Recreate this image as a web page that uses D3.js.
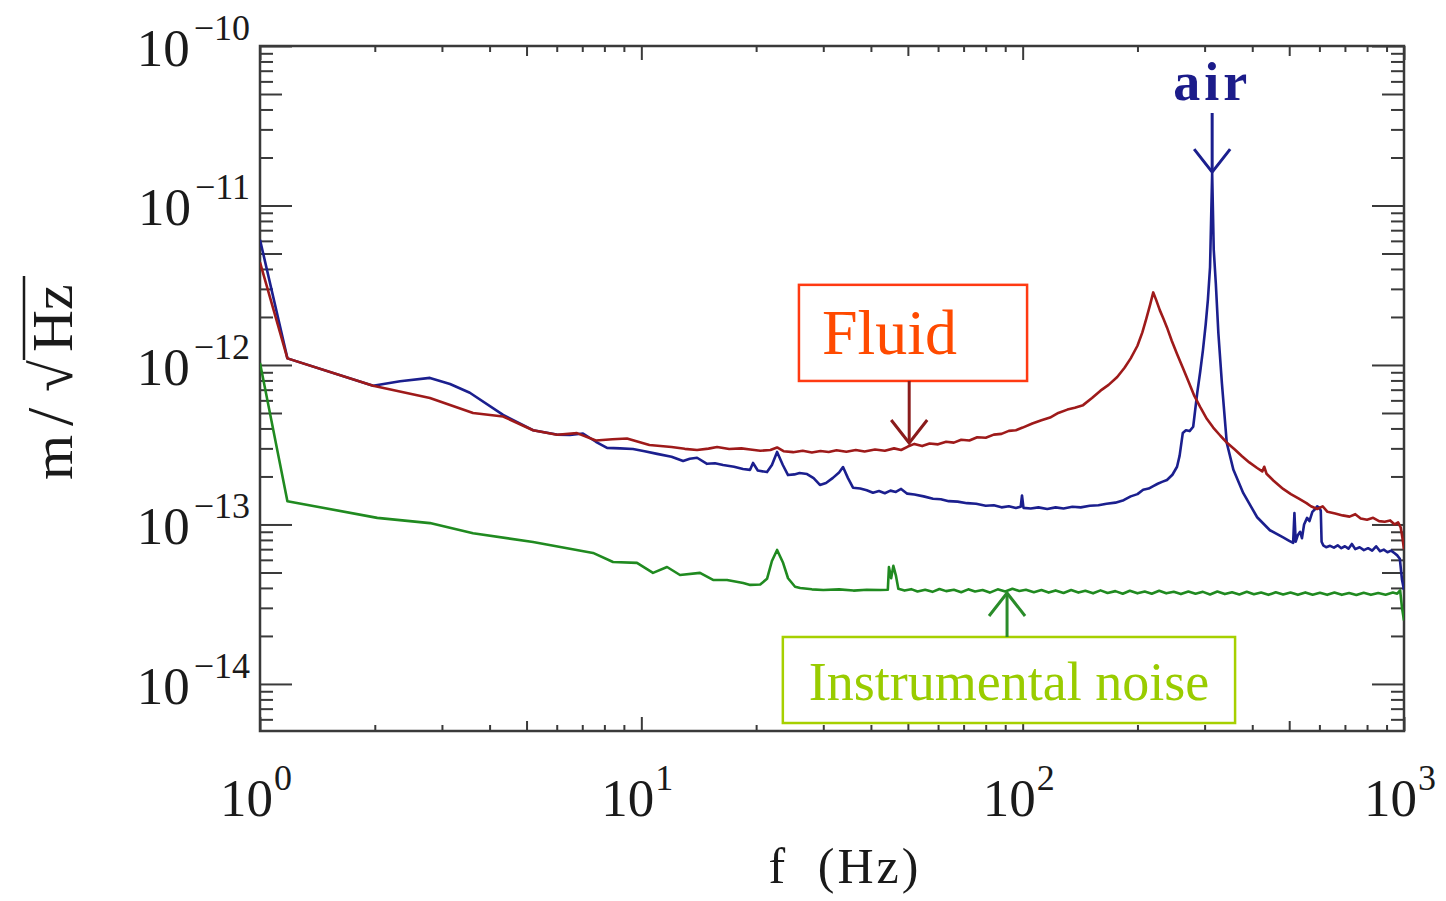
<!DOCTYPE html>
<html>
<head>
<meta charset="utf-8">
<script src="https://cdn.jsdelivr.net/npm/d3@7"></script>
<style>
	html, body { margin: 0; padding: 0; background: #fff; }
	svg { display: block; }
	text { font-family: 'Liberation Serif', 'Times New Roman', serif; }
</style>
</head>
<body>
<svg id="chart"></svg>
<script>
/* global d3 */

// Spectra: [ frequency (Hz), amplitude (m/sqrt(Hz)) ]
const fluidSpectrum = [
	[ 1.00, 4.4e-12 ], [ 1.18, 1.10e-12 ], [ 1.98, 7.4e-13 ], [ 2.79, 6.2e-13 ], [ 3.62, 5.0e-13 ],
	[ 4.34, 4.75e-13 ], [ 5.20, 3.9e-13 ], [ 6.01, 3.65e-13 ], [ 6.78, 3.74e-13 ], [ 7.6, 3.36e-13 ],
	[ 8.4, 3.42e-13 ], [ 9.17, 3.46e-13 ], [ 10.5, 3.15e-13 ], [ 12.0, 3.06e-13 ], [ 13.0, 2.98e-13 ],
	[ 14.0, 2.93e-13 ], [ 15.0, 2.99e-13 ], [ 15.8, 3.06e-13 ], [ 17.0, 2.97e-13 ], [ 18.3, 3.0e-13 ],
	[ 19.3, 2.95e-13 ], [ 20.5, 2.9e-13 ], [ 21.8, 2.93e-13 ], [ 22.7, 3.04e-13 ], [ 23.6, 2.88e-13 ],
	[ 25.0, 2.84e-13 ], [ 26.5, 2.9e-13 ], [ 28.0, 2.83e-13 ], [ 29.5, 2.89e-13 ], [ 31.0, 2.85e-13 ],
	[ 32.5, 2.92e-13 ], [ 34.5, 2.86e-13 ], [ 36.5, 2.93e-13 ], [ 38.5, 2.87e-13 ], [ 41.0, 2.95e-13 ],
	[ 43.5, 2.9e-13 ], [ 46.0, 3.0e-13 ], [ 48.0, 2.93e-13 ], [ 50.0, 3.08e-13 ], [ 52.0, 3.2e-13 ],
	[ 54.5, 3.1e-13 ], [ 57.0, 3.22e-13 ], [ 60.0, 3.18e-13 ], [ 63.0, 3.3e-13 ], [ 66.0, 3.26e-13 ],
	[ 69.0, 3.4e-13 ], [ 72.5, 3.36e-13 ], [ 76.0, 3.52e-13 ], [ 80.0, 3.5e-13 ], [ 84.0, 3.66e-13 ],
	[ 88.0, 3.7e-13 ], [ 92.0, 3.86e-13 ], [ 96.0, 3.9e-13 ], [ 100, 4.05e-13 ], [ 106, 4.3e-13 ],
	[ 112, 4.5e-13 ], [ 118, 4.68e-13 ], [ 124, 5.0e-13 ], [ 131, 5.25e-13 ], [ 137, 5.4e-13 ],
	[ 144, 5.6e-13 ], [ 152, 6.2e-13 ], [ 160, 6.9e-13 ], [ 168, 7.5e-13 ], [ 177, 8.4e-13 ],
	[ 185, 9.6e-13 ], [ 192, 1.1e-12 ], [ 200, 1.32e-12 ], [ 206, 1.6e-12 ], [ 211, 1.95e-12 ],
	[ 216, 2.4e-12 ], [ 220, 2.85e-12 ], [ 224, 2.55e-12 ], [ 229, 2.2e-12 ], [ 234, 1.95e-12 ],
	[ 239, 1.72e-12 ], [ 246, 1.42e-12 ], [ 254, 1.17e-12 ], [ 263, 9.6e-13 ], [ 272, 7.9e-13 ],
	[ 282, 6.4e-13 ], [ 292, 5.46e-13 ], [ 304, 4.6e-13 ], [ 316, 4.05e-13 ], [ 330, 3.6e-13 ],
	[ 344, 3.24e-13 ], [ 360, 2.95e-13 ], [ 376, 2.68e-13 ], [ 393, 2.45e-13 ], [ 412, 2.26e-13 ],
	[ 425, 2.15e-13 ], [ 430, 2.3e-13 ], [ 436, 2.08e-13 ], [ 455, 1.88e-13 ], [ 482, 1.67e-13 ],
	[ 505, 1.55e-13 ], [ 530, 1.45e-13 ], [ 555, 1.36e-13 ], [ 570, 1.3e-13 ], [ 592, 1.25e-13 ],
	[ 612, 1.3e-13 ], [ 630, 1.2e-13 ], [ 660, 1.17e-13 ], [ 690, 1.14e-13 ], [ 720, 1.12e-13 ],
	[ 745, 1.16e-13 ], [ 770, 1.09e-13 ], [ 800, 1.07e-13 ], [ 830, 1.1e-13 ], [ 860, 1.05e-13 ],
	[ 890, 1.04e-13 ], [ 920, 1.06e-13 ], [ 945, 1.0e-13 ], [ 965, 1.03e-13 ], [ 980, 9.6e-14 ],
	[ 990, 8.3e-14 ], [ 1000, 7.0e-14 ],
];

const airSpectrum = [
	[ 1.00, 6.1e-12 ], [ 1.18, 1.10e-12 ], [ 1.98, 7.4e-13 ], [ 2.33, 7.9e-13 ], [ 2.79, 8.3e-13 ],
	[ 3.15, 7.6e-13 ], [ 3.55, 6.7e-13 ], [ 4.34, 4.86e-13 ], [ 5.20, 3.9e-13 ], [ 6.0, 3.66e-13 ],
	[ 6.5, 3.64e-13 ], [ 7.03, 3.72e-13 ], [ 7.6, 3.3e-13 ], [ 8.13, 3.02e-13 ], [ 8.8, 3.0e-13 ],
	[ 9.51, 2.97e-13 ], [ 10.2, 2.88e-13 ], [ 11.0, 2.77e-13 ], [ 12.0, 2.66e-13 ], [ 12.87, 2.5e-13 ],
	[ 13.4, 2.58e-13 ], [ 14.0, 2.62e-13 ], [ 14.87, 2.4e-13 ], [ 15.6, 2.42e-13 ], [ 16.38, 2.36e-13 ],
	[ 17.5, 2.3e-13 ], [ 18.48, 2.23e-13 ], [ 19.28, 2.2e-13 ], [ 19.63, 2.43e-13 ], [ 20.2, 2.18e-13 ],
	[ 21.36, 2.13e-13 ], [ 22.0, 2.36e-13 ], [ 22.7, 2.85e-13 ], [ 23.5, 2.36e-13 ], [ 24.25, 2.04e-13 ],
	[ 25.2, 2.06e-13 ], [ 26.0, 2.1e-13 ], [ 27.2, 2.07e-13 ], [ 28.3, 1.95e-13 ], [ 29.4, 1.77e-13 ],
	[ 30.5, 1.82e-13 ], [ 31.8, 1.96e-13 ], [ 33.0, 2.12e-13 ], [ 33.8, 2.29e-13 ], [ 34.8, 1.96e-13 ],
	[ 35.9, 1.7e-13 ], [ 37.5, 1.68e-13 ], [ 39.0, 1.64e-13 ], [ 40.5, 1.58e-13 ], [ 42.0, 1.62e-13 ],
	[ 43.5, 1.57e-13 ], [ 45.0, 1.63e-13 ], [ 46.5, 1.6e-13 ], [ 48.0, 1.67e-13 ], [ 49.8, 1.56e-13 ],
	[ 52.0, 1.54e-13 ], [ 55.0, 1.5e-13 ], [ 58.2, 1.45e-13 ], [ 61.0, 1.44e-13 ], [ 64.0, 1.4e-13 ],
	[ 67.5, 1.39e-13 ], [ 71.5, 1.36e-13 ], [ 75.5, 1.35e-13 ], [ 80.0, 1.31e-13 ], [ 84.0, 1.32e-13 ],
	[ 88.0, 1.28e-13 ], [ 92.0, 1.3e-13 ], [ 96.0, 1.27e-13 ], [ 98.8, 1.29e-13 ], [ 99.6, 1.52e-13 ],
	[ 100.5, 1.27e-13 ], [ 105, 1.26e-13 ], [ 110, 1.28e-13 ], [ 116, 1.25e-13 ], [ 122, 1.28e-13 ],
	[ 128, 1.26e-13 ], [ 135, 1.29e-13 ], [ 142, 1.28e-13 ], [ 150, 1.31e-13 ], [ 158, 1.32e-13 ],
	[ 166, 1.35e-13 ], [ 175, 1.37e-13 ], [ 184, 1.42e-13 ], [ 192, 1.5e-13 ], [ 200, 1.55e-13 ],
	[ 207, 1.65e-13 ], [ 214, 1.68e-13 ], [ 220, 1.74e-13 ], [ 226, 1.8e-13 ], [ 232, 1.85e-13 ],
	[ 239, 1.9e-13 ], [ 247, 2.05e-13 ], [ 254, 2.3e-13 ], [ 258, 2.7e-13 ], [ 263, 3.75e-13 ],
	[ 268, 3.9e-13 ], [ 274, 3.85e-13 ], [ 280, 4.1e-13 ], [ 287, 6.7e-13 ], [ 292, 9.0e-13 ],
	[ 297, 1.24e-12 ], [ 302, 1.8e-12 ], [ 306, 2.56e-12 ], [ 310, 4.1e-12 ], [ 314, 1.6e-11 ],
	[ 317, 5.3e-12 ], [ 321, 3.25e-12 ], [ 326, 1.58e-12 ], [ 333, 7.7e-13 ], [ 343, 3.24e-13 ],
	[ 357, 2.2e-13 ], [ 379, 1.57e-13 ], [ 412, 1.11e-13 ], [ 445, 9.2e-14 ], [ 482, 8.3e-14 ],
	[ 500, 7.9e-14 ], [ 512, 7.66e-14 ], [ 516, 1.18e-13 ], [ 520, 7.8e-14 ], [ 527, 8.6e-14 ],
	[ 534, 9.0e-14 ], [ 540, 8.2e-14 ], [ 547, 1.0e-13 ], [ 557, 1.1e-13 ], [ 565, 1.05e-13 ],
	[ 575, 1.2e-13 ], [ 585, 1.25e-13 ], [ 592, 1.3e-13 ], [ 600, 1.27e-13 ], [ 605, 1.22e-13 ],
	[ 608, 7.8e-14 ], [ 614, 7.4e-14 ], [ 625, 7.2e-14 ], [ 640, 7.35e-14 ], [ 655, 7.15e-14 ],
	[ 670, 7.4e-14 ], [ 685, 7.1e-14 ], [ 700, 7.3e-14 ], [ 715, 7.05e-14 ], [ 730, 7.55e-14 ],
	[ 745, 7.0e-14 ], [ 765, 7.2e-14 ], [ 785, 6.9e-14 ], [ 805, 7.1e-14 ], [ 825, 6.85e-14 ],
	[ 845, 7.3e-14 ], [ 865, 6.8e-14 ], [ 885, 6.95e-14 ], [ 905, 6.7e-14 ], [ 925, 6.85e-14 ],
	[ 945, 6.6e-14 ], [ 960, 6.4e-14 ], [ 975, 6.1e-14 ], [ 988, 4.5e-14 ], [ 1000, 3.9e-14 ],
];

const noiseSpectrum = [
	[ 1.00, 1.03e-12 ], [ 1.18, 1.40e-13 ], [ 2.03, 1.10e-13 ], [ 2.79, 1.02e-13 ], [ 3.62, 8.8e-14 ],
	[ 5.20, 7.77e-14 ], [ 7.47, 6.63e-14 ], [ 8.43, 5.82e-14 ], [ 9.74, 5.74e-14 ], [ 10.73, 4.97e-14 ],
	[ 11.68, 5.41e-14 ], [ 12.63, 4.82e-14 ], [ 14.25, 4.97e-14 ], [ 15.42, 4.49e-14 ], [ 16.78, 4.49e-14 ],
	[ 18.5, 4.3e-14 ], [ 19.3, 4.18e-14 ], [ 20.5, 4.2e-14 ], [ 21.36, 4.56e-14 ], [ 22.0, 5.9e-14 ],
	[ 22.7, 6.92e-14 ], [ 23.5, 5.8e-14 ], [ 24.25, 4.6e-14 ], [ 25.3, 4.07e-14 ], [ 26.1, 4.0e-14 ],
	[ 28, 3.92e-14 ], [ 30, 3.88e-14 ], [ 33, 3.92e-14 ], [ 36, 3.85e-14 ], [ 39, 3.9e-14 ],
	[ 42.3, 3.88e-14 ], [ 44.3, 3.9e-14 ], [ 44.6, 5.4e-14 ], [ 45.2, 4.6e-14 ], [ 45.8, 5.5e-14 ],
	[ 46.5, 4.8e-14 ], [ 47.2, 3.95e-14 ], [ 49, 3.85e-14 ], [ 51, 3.93e-14 ], [ 53, 3.8e-14 ],
	[ 55.5, 3.9e-14 ], [ 58, 3.78e-14 ], [ 60.5, 3.94e-14 ], [ 63, 3.82e-14 ], [ 66, 3.9e-14 ],
	[ 69, 3.76e-14 ], [ 72, 3.92e-14 ], [ 75, 3.8e-14 ], [ 78.5, 3.88e-14 ], [ 82, 3.74e-14 ],
	[ 86, 3.92e-14 ], [ 90, 3.8e-14 ], [ 94, 3.95e-14 ], [ 98, 3.83e-14 ], [ 102, 3.9e-14 ],
	[ 107, 3.76e-14 ], [ 112, 3.88e-14 ], [ 117, 3.74e-14 ], [ 122, 3.86e-14 ], [ 128, 3.72e-14 ],
	[ 134, 3.88e-14 ], [ 140, 3.74e-14 ], [ 146, 3.84e-14 ], [ 153, 3.7e-14 ], [ 160, 3.86e-14 ],
	[ 167, 3.72e-14 ], [ 175, 3.82e-14 ], [ 183, 3.68e-14 ], [ 191, 3.84e-14 ], [ 200, 3.7e-14 ],
	[ 209, 3.8e-14 ], [ 218, 3.68e-14 ], [ 228, 3.84e-14 ], [ 238, 3.7e-14 ], [ 249, 3.78e-14 ],
	[ 260, 3.66e-14 ], [ 272, 3.8e-14 ], [ 284, 3.68e-14 ], [ 297, 3.78e-14 ], [ 310, 3.64e-14 ],
	[ 324, 3.8e-14 ], [ 339, 3.66e-14 ], [ 354, 3.76e-14 ], [ 370, 3.64e-14 ], [ 387, 3.78e-14 ],
	[ 404, 3.65e-14 ], [ 422, 3.74e-14 ], [ 441, 3.62e-14 ], [ 461, 3.76e-14 ], [ 482, 3.64e-14 ],
	[ 504, 3.74e-14 ], [ 527, 3.62e-14 ], [ 551, 3.75e-14 ], [ 576, 3.63e-14 ], [ 602, 3.73e-14 ],
	[ 629, 3.62e-14 ], [ 657, 3.74e-14 ], [ 687, 3.62e-14 ], [ 718, 3.72e-14 ], [ 750, 3.61e-14 ],
	[ 784, 3.73e-14 ], [ 819, 3.62e-14 ], [ 856, 3.72e-14 ], [ 895, 3.63e-14 ], [ 935, 3.74e-14 ],
	[ 960, 3.68e-14 ], [ 977, 3.86e-14 ], [ 988, 3.0e-14 ], [ 1000, 2.5e-14 ],
];

// Axis ticks
const xMajorTicks = [ 1, 10, 100, 1000 ];
const yMajorTicks = [ 1e-14, 1e-13, 1e-12, 1e-11, 1e-10 ];
const minorMultipliers = [ 2, 3, 4, 6, 7, 8, 9 ];

// Annotations: [ frequency, amplitude ] anchors
const fluidBox = { f: [ 25.9, 102.7 ], v: [ 7.94e-13, 3.18e-12 ], label: 'Fluid' };
const fluidArrow = { f: 50.4, from: 7.94e-13, to: 3.24e-13 };
const noiseBox = { f: [ 23.5, 360.6 ], v: [ 5.69e-15, 1.97e-14 ], label: 'Instrumental noise' };
const noiseArrow = { f: 91.0, from: 1.97e-14, to: 3.72e-14 };
const airArrow = { f: 314, from: 3.8e-11, to: 1.62e-11, label: 'air' };

const COLORS = {
	fluid: '#9e1a1a',
	air: '#1b1f8e',
	noise: '#208a20',
	axis: '#3a3a3a',
	fluidBox: '#ff3a12',
	fluidText: '#ff4a00',
	fluidArrow: '#8a1c1c',
	noiseBox: '#a6d000',
	noiseText: '#99cc00',
	noiseArrow: '#2a8c2a',
	airText: '#1c1c8a',
};

const width = 1446;
const height = 901;

const x = d3.scaleLog().domain( [ 1, 1000 ] ).range( [ 260, 1404 ] );
const y = d3.scaleLog().domain( [ 5.07e-15, 1e-10 ] ).range( [ 731, 46 ] );

const svg = d3.select( '#chart' )
	.attr( 'width', width )
	.attr( 'height', height );

/**
 * Minor tick values across a set of decades
 *
 * @param {Array} exps        - decade exponents
 * @param {Array} multipliers - multipliers inside each decade
 * @param {Array} domain      - scale domain
 * @return {Array} tick values
 */
function decadeTicks( exps, multipliers, domain ) {
	const out = [];
	exps.forEach( ( e ) => {
		multipliers.forEach( ( k ) => out.push( k * Math.pow( 10, e ) ) );
	} );
	return out.filter( ( v ) => v >= domain[ 0 ] && v <= domain[ 1 ] );
}

const xMinor = decadeTicks( [ 0, 1, 2 ], minorMultipliers, x.domain() );
const xMid = decadeTicks( [ 0, 1, 2 ], [ 5 ], x.domain() );
const yMinor = decadeTicks( [ -15, -14, -13, -12, -11 ], minorMultipliers, y.domain() );
const yMid = decadeTicks( [ -15, -14, -13, -12, -11 ], [ 5 ], y.domain() );

/**
 * Draw one set of inward ticks
 */
function tickLayer( axis, values, size, transform ) {
	svg.append( 'g' )
		.attr( 'transform', transform )
		.attr( 'color', COLORS.axis )
		.call( axis.tickValues( values ).tickSize( size ).tickSizeOuter( 0 ).tickFormat( () => '' ) )
		.call( ( g ) => g.select( '.domain' ).remove() )
		.selectAll( 'line' )
		.attr( 'stroke-width', 2 );
}

const [ x0, x1 ] = x.range();
const [ yb, yt ] = y.range();

// bottom + top
tickLayer( d3.axisBottom( x ), xMajorTicks, -14, `translate(0,${ yb })` );
tickLayer( d3.axisBottom( x ), xMid, -10, `translate(0,${ yb })` );
tickLayer( d3.axisBottom( x ), xMinor, -6, `translate(0,${ yb })` );
tickLayer( d3.axisTop( x ), xMajorTicks, -14, `translate(0,${ yt })` );
tickLayer( d3.axisTop( x ), xMid, -10, `translate(0,${ yt })` );
tickLayer( d3.axisTop( x ), xMinor, -6, `translate(0,${ yt })` );
// left + right
tickLayer( d3.axisLeft( y ), yMajorTicks, -32, `translate(${ x0 },0)` );
tickLayer( d3.axisLeft( y ), yMid, -22, `translate(${ x0 },0)` );
tickLayer( d3.axisLeft( y ), yMinor, -13, `translate(${ x0 },0)` );
tickLayer( d3.axisRight( y ), yMajorTicks, -32, `translate(${ x1 },0)` );
tickLayer( d3.axisRight( y ), yMid, -22, `translate(${ x1 },0)` );
tickLayer( d3.axisRight( y ), yMinor, -13, `translate(${ x1 },0)` );

// frame
svg.append( 'rect' )
	.attr( 'x', x0 )
	.attr( 'y', yt )
	.attr( 'width', x1 - x0 )
	.attr( 'height', yb - yt )
	.attr( 'fill', 'none' )
	.attr( 'stroke', COLORS.axis )
	.attr( 'stroke-width', 2.5 );

/**
 * 10^n tick label
 */
function powerLabel( sel, v ) {
	const exp = Math.round( Math.log10( v ) );
	sel.append( 'tspan' ).text( '10' );
	sel.append( 'tspan' )
		.attr( 'dy', -26 )
		.attr( 'dx', exp < 0 ? 4 : 1 )
		.attr( 'font-size', 36 )
		.text( exp < 0 ? '\u2212' + ( -exp ) : String( exp ) );
}

svg.append( 'g' )
	.selectAll( 'text' )
	.data( yMajorTicks )
	.join( 'text' )
	.attr( 'x', x0 - 10 )
	.attr( 'y', ( d ) => y( d ) + 20 )
	.attr( 'text-anchor', 'end' )
	.attr( 'font-size', 53 )
	.attr( 'fill', '#1a1a1a' )
	.each( function( d ) {
		powerLabel( d3.select( this ), d );
	} );

svg.append( 'g' )
	.selectAll( 'text' )
	.data( xMajorTicks )
	.join( 'text' )
	.attr( 'x', ( d ) => x( d ) - 4 )
	.attr( 'y', yb + 85 )
	.attr( 'text-anchor', 'middle' )
	.attr( 'font-size', 53 )
	.attr( 'fill', '#1a1a1a' )
	.each( function( d ) {
		powerLabel( d3.select( this ), d );
	} );

// axis titles
svg.append( 'text' )
	.attr( 'x', 845 )
	.attr( 'y', 883 )
	.attr( 'text-anchor', 'middle' )
	.attr( 'font-size', 50 )
	.attr( 'fill', '#1a1a1a' )
	.style( 'letter-spacing', '3px' )
	.style( 'word-spacing', '14px' )
	.text( 'f (Hz)' );

const yTitle = svg.append( 'g' )
	.attr( 'transform', 'translate(72,480) rotate(-90)' )
	.attr( 'fill', '#1a1a1a' );
yTitle.append( 'text' ).attr( 'x', 0 ).attr( 'font-size', 58 ).text( 'm' );
yTitle.append( 'text' ).attr( 'x', 54 ).attr( 'font-size', 66 ).text( '/' );
yTitle.append( 'text' ).attr( 'x', 88 ).attr( 'font-size', 58 ).text( '\u221A' );
yTitle.append( 'text' ).attr( 'x', 128 ).attr( 'font-size', 58 ).text( 'Hz' );
yTitle.append( 'line' )
	.attr( 'x1', 120 ).attr( 'x2', 204 )
	.attr( 'y1', -48 ).attr( 'y2', -48 )
	.attr( 'stroke', '#1a1a1a' )
	.attr( 'stroke-width', 2.5 );

// spectra
svg.append( 'clipPath' )
	.attr( 'id', 'plot-clip' )
	.append( 'rect' )
	.attr( 'x', x0 )
	.attr( 'y', yt )
	.attr( 'width', x1 - x0 )
	.attr( 'height', yb - yt );

const line = d3.line()
	.x( ( d ) => x( d[ 0 ] ) )
	.y( ( d ) => y( d[ 1 ] ) );

const plot = svg.append( 'g' ).attr( 'clip-path', 'url(#plot-clip)' );
[
	[ noiseSpectrum, COLORS.noise ],
	[ airSpectrum, COLORS.air ],
	[ fluidSpectrum, COLORS.fluid ],
].forEach( ( [ data, color ] ) => {
	plot.append( 'path' )
		.datum( data )
		.attr( 'd', line )
		.attr( 'fill', 'none' )
		.attr( 'stroke', color )
		.attr( 'stroke-width', 2.6 )
		.attr( 'stroke-linejoin', 'round' );
} );

/**
 * Arrow with an open V head at the "to" end
 */
function arrow( spec, color, strokeWidth ) {
	const ax = x( spec.f );
	const ya = y( spec.from );
	const yz = y( spec.to );
	const dir = yz > ya ? 1 : -1;
	const g = svg.append( 'g' )
		.attr( 'stroke', color )
		.attr( 'stroke-width', strokeWidth )
		.attr( 'fill', 'none' );
	g.append( 'line' )
		.attr( 'x1', ax ).attr( 'x2', ax )
		.attr( 'y1', ya ).attr( 'y2', yz );
	g.append( 'path' )
		.attr( 'd', `M${ ax - 18 },${ yz - dir * 23 }L${ ax },${ yz }L${ ax + 18 },${ yz - dir * 23 }` );
}

/**
 * Boxed label
 */
function labelBox( spec, stroke, fill, size, anchor, dx, dy ) {
	const bx0 = x( spec.f[ 0 ] );
	const bx1 = x( spec.f[ 1 ] );
	const by0 = y( spec.v[ 1 ] );
	const by1 = y( spec.v[ 0 ] );
	svg.append( 'rect' )
		.attr( 'x', bx0 )
		.attr( 'y', by0 )
		.attr( 'width', bx1 - bx0 )
		.attr( 'height', by1 - by0 )
		.attr( 'fill', '#fff' )
		.attr( 'stroke', stroke )
		.attr( 'stroke-width', 2.5 );
	svg.append( 'text' )
		.attr( 'x', anchor === 'middle' ? ( bx0 + bx1 ) / 2 : bx0 + dx )
		.attr( 'y', by0 + dy )
		.attr( 'text-anchor', anchor )
		.attr( 'font-size', size )
		.attr( 'fill', fill )
		.text( spec.label );
}

labelBox( fluidBox, COLORS.fluidBox, COLORS.fluidText, 64, 'start', 23, 69 );
arrow( fluidArrow, COLORS.fluidArrow, 3 );

labelBox( noiseBox, COLORS.noiseBox, COLORS.noiseText, 54, 'middle', 0, 63 );
arrow( noiseArrow, COLORS.noiseArrow, 3 );

arrow( airArrow, COLORS.air, 3 );
svg.append( 'text' )
	.attr( 'x', x( airArrow.f ) )
	.attr( 'y', y( airArrow.from ) - 13 )
	.attr( 'text-anchor', 'middle' )
	.attr( 'font-family', '"DejaVu Serif", serif' )
	.attr( 'font-weight', 'bold' )
	.attr( 'font-size', 54 )
	.style( 'letter-spacing', '4px' )
	.attr( 'fill', COLORS.airText )
	.text( airArrow.label );
</script>
</body>
</html>
